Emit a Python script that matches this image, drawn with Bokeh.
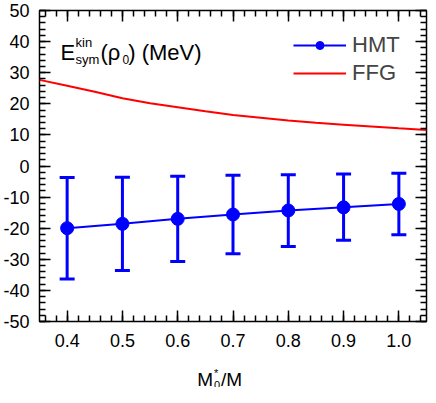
import numpy as np
import bokeh.plotting
from bokeh.layouts import column
from bokeh.models import (ColumnDataSource, Whisker, TeeHead, Label, Legend,
                          LinearAxis, FixedTicker, Range1d, CustomJSTickFormatter)
from bokeh.embed import file_html
from bokeh.resources import INLINE

# HMT points: M0*/M, central value and error band ends (MeV)
m_ratio = [0.4, 0.5, 0.6, 0.7, 0.8, 0.9, 1.0]
hmt_central = [-20.0, -18.6, -17.0, -15.6, -14.3, -13.3, -12.2]
hmt_upper = [-3.7, -3.6, -3.3, -3.0, -2.8, -2.6, -2.3]
hmt_lower = [-36.3, -33.6, -30.7, -28.2, -25.9, -23.9, -22.1]

# FFG curve
ffg_x = [0.35, 0.40, 0.45, 0.50, 0.55, 0.60, 0.65, 0.70,
         0.75, 0.80, 0.85, 0.90, 0.95, 1.00, 1.05]
ffg_y = [27.7, 25.8, 23.9, 21.8, 20.2, 18.9, 17.6, 16.4,
         15.5, 14.6, 13.9, 13.3, 12.7, 12.1, 11.6]

x_ticks = [0.4, 0.5, 0.6, 0.7, 0.8, 0.9, 1.0]
x_tick_labels = ['0.4', '0.5', '0.6', '0.7', '0.8', '0.9', '1.0']
y_ticks = [-50, -40, -30, -20, -10, 0, 10, 20, 30, 40, 50]
y_tick_labels = ['-50', '-40', '-30', '-20', '-10', '0', '10', '20', '30', '40', '50']

FONT = 'Liberation Sans'
BLUE = '#0000ff'
RED = '#ff0000'

LOOKUP = """
let best = 0;
for (let i = 0; i < vals.length; i++) {
    if (Math.abs(vals[i] - tick) < Math.abs(vals[best] - tick)) best = i;
}
return names[best];
"""

p = bokeh.plotting.figure(width=428, height=360,
                          x_range=Range1d(0.35, 1.05), y_range=Range1d(-50, 50),
                          output_backend='svg', toolbar_location=None,
                          min_border_left=36, min_border_right=2,
                          min_border_top=10, min_border_bottom=39)
p.xgrid.visible = False
p.ygrid.visible = False
p.outline_line_color = 'black'
p.outline_line_width = 1.5
p.border_fill_color = 'white'

x_minor = list(np.round(np.arange(0.36, 1.05, 0.02), 2))
y_minor = list(range(-50, 51, 2))

# ticks on all four sides, pointing inward
p.add_layout(LinearAxis(), 'above')
p.add_layout(LinearAxis(), 'right')
for ax in p.xaxis:
    ax.ticker = FixedTicker(ticks=x_ticks, minor_ticks=x_minor)
for ax in p.yaxis:
    ax.ticker = FixedTicker(ticks=y_ticks, minor_ticks=y_minor)
for ax in p.xaxis + p.yaxis:
    ax.axis_line_color = None
    ax.major_tick_in = 11
    ax.major_tick_out = 0
    ax.minor_tick_in = 6
    ax.minor_tick_out = 0
    ax.major_tick_line_width = 1.5
    ax.minor_tick_line_width = 1.5
    ax.major_tick_line_color = 'black'
    ax.minor_tick_line_color = 'black'
    ax.major_label_text_font = FONT
    ax.major_label_text_font_size = '18px'
    ax.major_label_text_color = 'black'

p.below[0].formatter = CustomJSTickFormatter(args=dict(vals=x_ticks, names=x_tick_labels), code=LOOKUP)
p.left[0].formatter = CustomJSTickFormatter(args=dict(vals=y_ticks, names=y_tick_labels), code=LOOKUP)
p.below[0].major_label_standoff = 12
p.left[0].major_label_standoff = 10
# top/right axes: ticks only
for ax in (p.above[0], p.right[0]):
    ax.formatter = CustomJSTickFormatter(code="return ''")
    ax.major_label_text_color = None
    ax.major_label_text_font_size = '1px'
    ax.major_label_standoff = 0

# FFG
r_ffg = p.line(ffg_x, ffg_y, color=RED, line_width=2)

# HMT with error bars
src = ColumnDataSource(dict(x=m_ratio, y=hmt_central, upper=hmt_upper, lower=hmt_lower))
p.add_layout(Whisker(source=src, base='x', upper='upper', lower='lower',
                     line_color=BLUE, line_width=3,
                     upper_head=TeeHead(size=15, line_color=BLUE, line_width=3),
                     lower_head=TeeHead(size=15, line_color=BLUE, line_width=3)))
r_hmt_line = p.line('x', 'y', source=src, color=BLUE, line_width=2)
r_hmt_pts = p.scatter('x', 'y', source=src, size=13, color=BLUE)

legend = Legend(items=[('HMT', [r_hmt_line, r_hmt_pts]), ('FFG', [r_ffg])],
                location=(254, 235), padding=0, margin=0, spacing=2,
                glyph_width=53, glyph_height=20, label_height=20,
                label_standoff=6, label_text_font=FONT,
                label_text_font_size='22px', border_line_color=None,
                background_fill_alpha=0)
p.add_layout(legend)


def put(fig, text, x, y, size):
    fig.add_layout(Label(x=x, y=y, x_units='screen', y_units='screen', text=text,
                         text_font=FONT, text_font_size=size, text_color='black',
                         text_baseline='alphabetic'))


# in-plot quantity label: E^kin_sym(rho_0) (MeV)
put(p, 'E', 21, 269, '22px')
put(p, 'kin', 36, 279, '13px')
put(p, 'sym', 36, 262.5, '13px')
put(p, '(\u03c1', 61, 269, '22px')
put(p, '0', 83, 262.5, '12px')
put(p, ') (MeV)', 88.7, 269, '22px')

# strip under the plot holding the x axis title M*_0/M
# (its frame lines up with the main frame, so x is measured from the plot's left edge)
q = bokeh.plotting.figure(width=428, height=27,
                          x_range=Range1d(0, 390), y_range=Range1d(0, 27),
                          output_backend='svg', toolbar_location=None,
                          x_axis_type=None, y_axis_type=None,
                          min_border_left=36, min_border_right=2,
                          min_border_top=0, min_border_bottom=0)
q.xgrid.visible = False
q.ygrid.visible = False
q.outline_line_color = None
q.border_fill_color = 'white'
put(q, 'M', 157.7, 8, '19px')
put(q, '*', 174.5, 14.5, '11px')
put(q, '0', 174.5, 3, '11px')
put(q, '/M', 181.5, 8, '19px')

layout = column(p, q, spacing=0)
open('out.html', 'w').write(file_html(layout, INLINE))
